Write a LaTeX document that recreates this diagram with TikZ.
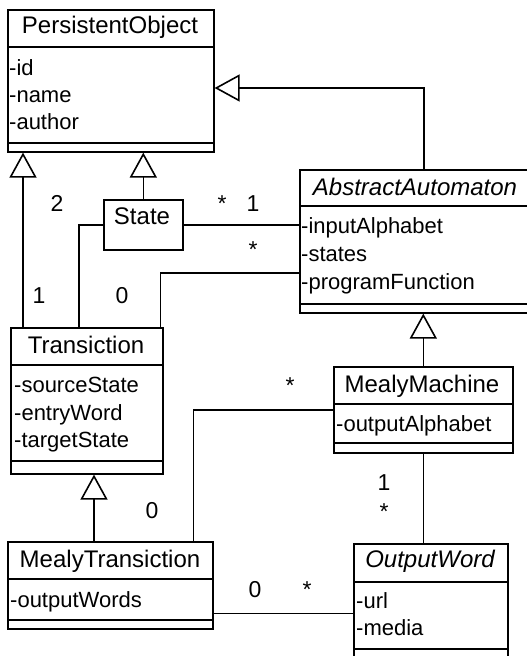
\documentclass[tikz,border=0pt]{standalone}
\usepackage{fontspec}
\setmainfont{Liberation Sans}
\usetikzlibrary{arrows.meta}

\newcommand\classtitlefont{\fontsize{24}{28}\selectfont}
\newcommand\classattrfont{\fontsize{22}{26}\selectfont}
\newcommand\multfont{\fontsize{23}{26}\selectfont}

\begin{document}
\begin{tikzpicture}[x=1pt, y=-1pt,
  classbox/.style={draw, line width=1.6pt, inner sep=0pt, anchor=north west, fill=white},
  classtitle/.style={inner sep=0pt, anchor=base, font=\classtitlefont},
  classattr/.style={inner sep=0pt, anchor=base west, font=\classattrfont},
  mult/.style={inner sep=0pt, anchor=base, font=\multfont},
  link/.style={line width=1.6pt},
  gen/.style={line width=1.6pt, -{Triangle[open, length=25pt, width=27pt]}},
  sep/.style={line width=1.6pt}]
\useasboundingbox (0,0) rectangle (527,656);
\clip (0,0) rectangle (527,656);

% ---------- class boxes ----------
\node[classbox, minimum width=206pt, minimum height=142pt] (po) at (7,9) {};
\node[classbox, minimum width=79pt,  minimum height=50pt]  (st) at (103,199) {};
\node[classbox, minimum width=232pt, minimum height=143pt] (aa) at (299,169) {};
\node[classbox, minimum width=152pt, minimum height=146pt] (tr) at (10,327) {};
\node[classbox, minimum width=179pt, minimum height=86pt]  (mm) at (333,366) {};
\node[classbox, minimum width=205pt, minimum height=87pt]  (mt) at (7,541) {};
\node[classbox, minimum width=154pt, minimum height=130pt] (ow) at (353,543) {};

% ---------- compartment separators ----------
\draw[sep] ([yshift=-38pt]po.north west) -- ([yshift=-38pt]po.north east);
\draw[sep] ([yshift=-134pt]po.north west) -- ([yshift=-134pt]po.north east);
\draw[sep] ([yshift=-37pt]aa.north west) -- ([yshift=-37pt]aa.north east);
\draw[sep] ([yshift=-135pt]aa.north west) -- ([yshift=-135pt]aa.north east);
\draw[sep] ([yshift=-38pt]tr.north west) -- ([yshift=-38pt]tr.north east);
\draw[sep] ([yshift=-134pt]tr.north west) -- ([yshift=-134pt]tr.north east);
\draw[sep] ([yshift=-38pt]mm.north west) -- ([yshift=-38pt]mm.north east);
\draw[sep] ([yshift=-77pt]mm.north west) -- ([yshift=-77pt]mm.north east);
\draw[sep] ([yshift=-38pt]mt.north west) -- ([yshift=-38pt]mt.north east);
\draw[sep] ([yshift=-79pt]mt.north west) -- ([yshift=-79pt]mt.north east);
\draw[sep] ([yshift=-39pt]ow.north west) -- ([yshift=-39pt]ow.north east);
\draw[sep] ([yshift=-106pt]ow.north west) -- ([yshift=-106pt]ow.north east);

% ---------- class names ----------
\node[classtitle] (poT) at (110,33)  {PersistentObject};
\node[classtitle] (stT) at (142,224) {State};
\node[classtitle] (aaT) at (415,195) {\itshape AbstractAutomaton};
\node[classtitle] (trT) at (86,353)  {Transiction};
\node[classtitle] (mmT) at (422,392) {MealyMachine};
\node[classtitle] (mtT) at (110,567) {MealyTransiction};
\node[classtitle] (owT) at (430,567) {\itshape OutputWord};

% ---------- attributes ----------
\node[classattr] (poA1) at (9,75)   {-id};
\node[classattr] (poA2) at (9,102)  {-name};
\node[classattr] (poA3) at (9,129)  {-author};
\node[classattr] (aaA1) at (301,233) {-inputAlphabet};
\node[classattr] (aaA2) at (301,261) {-states};
\node[classattr] (aaA3) at (301,289) {-programFunction};
\node[classattr] (trA1) at (14,392) {-sourceState};
\node[classattr] (trA2) at (14,420) {-entryWord};
\node[classattr] (trA3) at (14,447) {-targetState};
\node[classattr] (mmA1) at (336,431) {-outputAlphabet};
\node[classattr] (mtA1) at (10,607) {-outputWords};
\node[classattr] (owA1) at (356,608) {-url};
\node[classattr] (owA2) at (356,635) {-media};

% ---------- connector anchor points ----------
\coordinate (trGen) at ([xshift=13pt]tr.north west);
\coordinate (trSt)  at ([xshift=69pt]tr.north west);
\coordinate (trAA)  at ([xshift=-3pt]tr.north east);
\coordinate (poGen) at ([yshift=-79pt]po.north east);
\coordinate (aaTop) at ([xshift=8pt]aa.north);
\coordinate (aaTr)  at ([yshift=-104pt]aa.north west);
\coordinate (trSub) at ([xshift=84pt]tr.south west);
\coordinate (mtMM)  at ([xshift=-20pt]mt.north east);
\coordinate (mtOW)  at ([yshift=16pt]mt.south east);

% ---------- generalizations ----------
\draw[gen] (trGen) -- (trGen |- po.south);
\draw[gen] (st.north) -- (st.north |- po.south);
\draw[gen] (aaTop) |- (poGen);
\draw[gen] (mm.north) -- (mm.north |- aa.south);
\draw[gen] (trSub |- mt.north) -- (trSub);

% ---------- associations ----------
\draw[link] (st.east) -- (st.east -| aa.west);
\draw[link] (st.west) -| (trSt);
\draw[link] (aaTr) -| (trAA);
\draw[link] (mm.west) -| (mtMM);
\draw[link] (mm.south) -- (mm.south |- ow.north);
\draw[link] (mtOW) -- (mtOW -| ow.west);

% ---------- multiplicities ----------
\node[mult] (m1)  at (57,211)  {2};
\node[mult] (m2)  at (222,211) {*};
\node[mult] (m3)  at (253,211) {1};
\node[mult] (m4)  at (253,257) {*};
\node[mult] (m5)  at (39,303)  {1};
\node[mult] (m6)  at (122,303) {0};
\node[mult] (m7)  at (290,393) {*};
\node[mult] (m8)  at (384,490) {1};
\node[mult] (m9)  at (384,519) {*};
\node[mult] (m10) at (152,518) {0};
\node[mult] (m11) at (255,597) {0};
\node[mult] (m12) at (307,597) {*};
\end{tikzpicture}
\end{document}
